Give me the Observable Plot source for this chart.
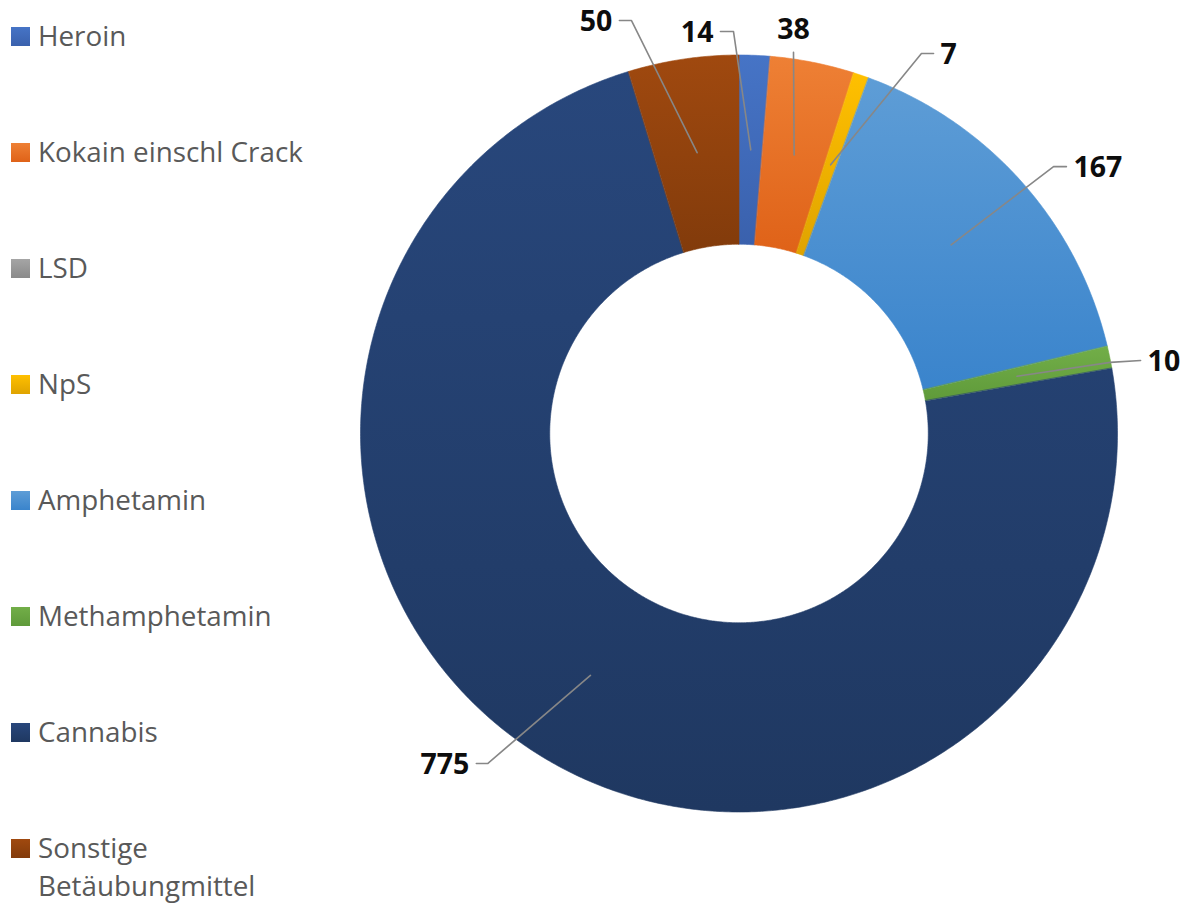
<!DOCTYPE html>
<html>
<head>
<meta charset="utf-8">
<script src="https://cdn.jsdelivr.net/npm/d3@7"></script>
<script src="https://cdn.jsdelivr.net/npm/@observablehq/plot@0.6"></script>
<style>
  html, body { margin: 0; padding: 0; background: #fff; }
  #wrap { position: relative; width: 1186px; height: 903px; overflow: hidden; }
  #chart { position: absolute; left: 0; top: 0; }
  #legend { position: absolute; left: 0; top: 0; width: 350px; height: 903px; font-family: "Open Sans", sans-serif; font-size: 27.8px; color: #595959; }
  .item { position: absolute; left: 11px; width: 330px; display: flex; align-items: flex-start; }
  .sw { width: 19px; height: 19px; margin-top: 11px; margin-right: 8px; flex: none; }
  .lbl { line-height: 38px; width: 280px; }
</style>
</head>
<body>
<div id="wrap">
  <div id="chart"></div>
  <div id="legend"></div>
</div>
<script>
// ---- data ----
const categories = ["Heroin", "Kokain einschl Crack", "LSD", "NpS", "Amphetamin", "Methamphetamin", "Cannabis", "Sonstige Betäubungmittel"];
const values = [14, 38, 0, 7, 167, 10, 775, 50];

// ---- styles ----
const topColors    = ["#4674c6", "#ee8035", "#a5a5a5", "#ffc000", "#5e9dd6", "#72ae48", "#28477c", "#a0490f"];
const bottomColors = ["#3a61ad", "#df6218", "#8a8a8a", "#dfa300", "#3a84cc", "#5f9a3a", "#1f3861", "#823b0b"];
const innerRatio = 0.5;
const leaderRadius = 0.75;
// label layout (elbow and end of leader line, in units of the outer radius; anchor of text)
const labelLayout = {
  "Heroin":                   {elbow: [-0.0145, 1.062], end: [-0.049, 1.062], anchor: "end"},
  "Kokain einschl Crack":     {elbow: [0.144, 1.007],   end: [0.144, 1.007],  anchor: "middle"},
  "NpS":                      {elbow: [0.482, 1.004],   end: [0.514, 1.004],  anchor: "start"},
  "Amphetamin":               {elbow: [0.831, 0.705],   end: [0.865, 0.705],  anchor: "start"},
  "Methamphetamin":           {elbow: [0.981, 0.188],   end: [1.061, 0.193],  anchor: "start"},
  "Cannabis":                 {elbow: [-0.664, -0.872], end: [-0.694, -0.872], anchor: "end"},
  "Sonstige Betäubungmittel": {elbow: [-0.284, 1.091],  end: [-0.316, 1.091], anchor: "end"}
};

const rows = categories.map((name, i) => ({name, value: values[i]}));
const arcs = d3.pie().sort(null).value(d => d.value)(rows);

// ring polygons
const ringPts = arcs.flatMap(a => {
  const span = a.endAngle - a.startAngle;
  if (span <= 0) return [];
  const n = Math.max(2, Math.ceil(span / (Math.PI / 360)));
  const pts = [];
  for (let k = 0; k <= n; k++) {
    const t = a.startAngle + span * k / n;
    pts.push({name: a.data.name, x: Math.sin(t), y: Math.cos(t)});
  }
  for (let k = n; k >= 0; k--) {
    const t = a.startAngle + span * k / n;
    pts.push({name: a.data.name, x: innerRatio * Math.sin(t), y: innerRatio * Math.cos(t)});
  }
  return pts;
});

// leader lines and labels
const labeled = arcs.filter(a => a.data.value > 0 && labelLayout[a.data.name]);
const leaderPts = labeled.flatMap(a => {
  const m = (a.startAngle + a.endAngle) / 2;
  const L = labelLayout[a.data.name];
  return [
    {name: a.data.name, x: leaderRadius * Math.sin(m), y: leaderRadius * Math.cos(m)},
    {name: a.data.name, x: L.elbow[0], y: L.elbow[1]},
    {name: a.data.name, x: L.end[0], y: L.end[1]}
  ];
});
const labelRows = labeled.map(a => {
  const L = labelLayout[a.data.name];
  return {name: a.data.name, text: String(a.data.value), x: L.end[0], y: L.end[1], anchor: L.anchor};
});

const labelFont = {fontFamily: "Open Sans, sans-serif", fontSize: 28.5, fontWeight: "bold", fill: "#0d0d0d"};

const chart = Plot.plot({
  width: 1186,
  height: 903,
  marginLeft: 360,
  marginRight: 69,
  marginTop: 54.5,
  marginBottom: 91.5,
  x: {domain: [-1, 1], axis: null},
  y: {domain: [-1, 1], axis: null},
  color: {type: "ordinal", domain: categories, range: categories.map((c, i) => `url(#grad${i})`)},
  style: {background: "transparent", overflow: "visible"},
  marks: [
    Plot.line(ringPts, {x: "x", y: "y", z: "name", fill: "name", stroke: "name", strokeWidth: 0.6, curve: "linear-closed"}),
    Plot.line(leaderPts, {x: "x", y: "y", z: "name", stroke: "#878787", strokeWidth: 1.6}),
    Plot.text(labelRows, {filter: d => d.anchor === "end", x: "x", y: "y", text: "text", textAnchor: "end", dx: -7, dy: 1.5, ...labelFont}),
    Plot.text(labelRows, {filter: d => d.anchor === "start", x: "x", y: "y", text: "text", textAnchor: "start", dx: 7, dy: 1.5, ...labelFont}),
    Plot.text(labelRows, {filter: d => d.anchor === "middle", x: "x", y: "y", text: "text", textAnchor: "middle", dy: -22, ...labelFont})
  ]
});

// gradient definitions
const defs = d3.select(chart).insert("defs", ":first-child");
categories.forEach((c, i) => {
  const g = defs.append("linearGradient").attr("id", `grad${i}`)
    .attr("x1", 0).attr("y1", 0).attr("x2", 0).attr("y2", 1);
  g.append("stop").attr("offset", "0%").attr("stop-color", topColors[i]);
  g.append("stop").attr("offset", "100%").attr("stop-color", bottomColors[i]);
});

document.getElementById("chart").appendChild(chart);

// legend
const legend = d3.select("#legend");
categories.forEach((c, i) => {
  const item = legend.append("div").attr("class", "item").style("top", (16 + i * 116) + "px");
  item.append("div").attr("class", "sw")
    .style("background", `linear-gradient(to bottom, ${topColors[i]}, ${bottomColors[i]})`);
  item.append("div").attr("class", "lbl").text(c);
});
</script>
</body>
</html>
